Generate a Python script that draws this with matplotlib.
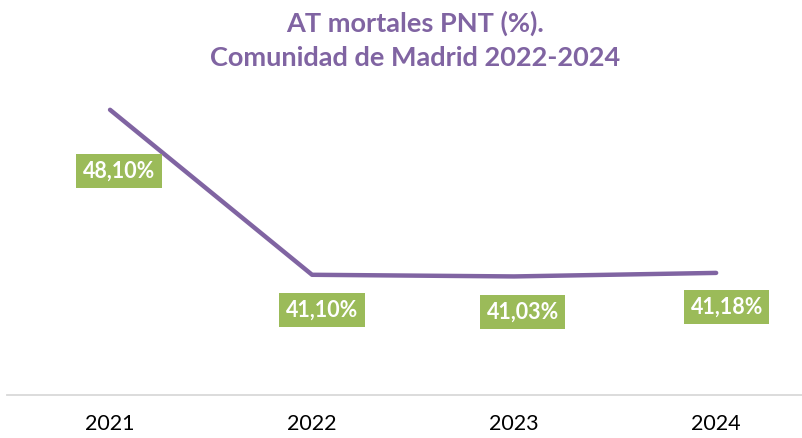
import matplotlib.pyplot as plt

years = ['2021', '2022', '2023', '2024']
values = [48.10, 41.10, 41.03, 41.18]
labels = ['48,10%', '41,10%', '41,03%', '41,18%']

# where the excel labels sit, in pixels from the point
label_dx = [9, 10, 8.5, 10.5]
label_dy = [-61.5, -35.5, -36, -34]

purple = '#8064A2'
green = '#9BBB59'

plt.rcParams['font.family'] = ['Lato', 'DejaVu Sans']

fig = plt.figure(figsize=(8.03, 4.38), dpi=100)
ax = fig.add_axes([7 / 803, 1 - 395 / 438, (803 - 7) / 803, (395 - 65) / 438])

x = list(range(len(years)))
ax.plot(x, values, color=purple, linewidth=3.2, solid_capstyle='round', solid_joinstyle='round')

for i in range(len(values)):
    ax.annotate(labels[i], (x[i], values[i]), xytext=(label_dx[i] * 0.72, label_dy[i] * 0.72),
                textcoords='offset points', ha='center', va='center',
                color='white', fontsize=15.5, fontweight='bold',
                bbox=dict(boxstyle='square,pad=0.3', fc=green, ec='none'))

ax.set_xlim(-0.51, 3.43)
ax.set_ylim(36, 50)
ax.set_xticks(x)
ax.set_xticklabels(years, fontsize=15.5)
ax.set_yticks([])
ax.tick_params(axis='x', length=0, pad=14)
for s in ['top', 'left', 'right']:
    ax.spines[s].set_visible(False)
ax.spines['bottom'].set_color('#d9d9d9')
ax.spines['bottom'].set_linewidth(1.3)

fig.text(415 / 803, 1 - 23 / 438, 'AT mortales PNT (%).', ha='center', va='center',
         color=purple, fontsize=19.5, fontweight='bold')
fig.text(415 / 803, 1 - 58 / 438, 'Comunidad de Madrid 2022-2024', ha='center', va='center',
         color=purple, fontsize=19.5, fontweight='bold')

fig.savefig('out.png', dpi=100)
